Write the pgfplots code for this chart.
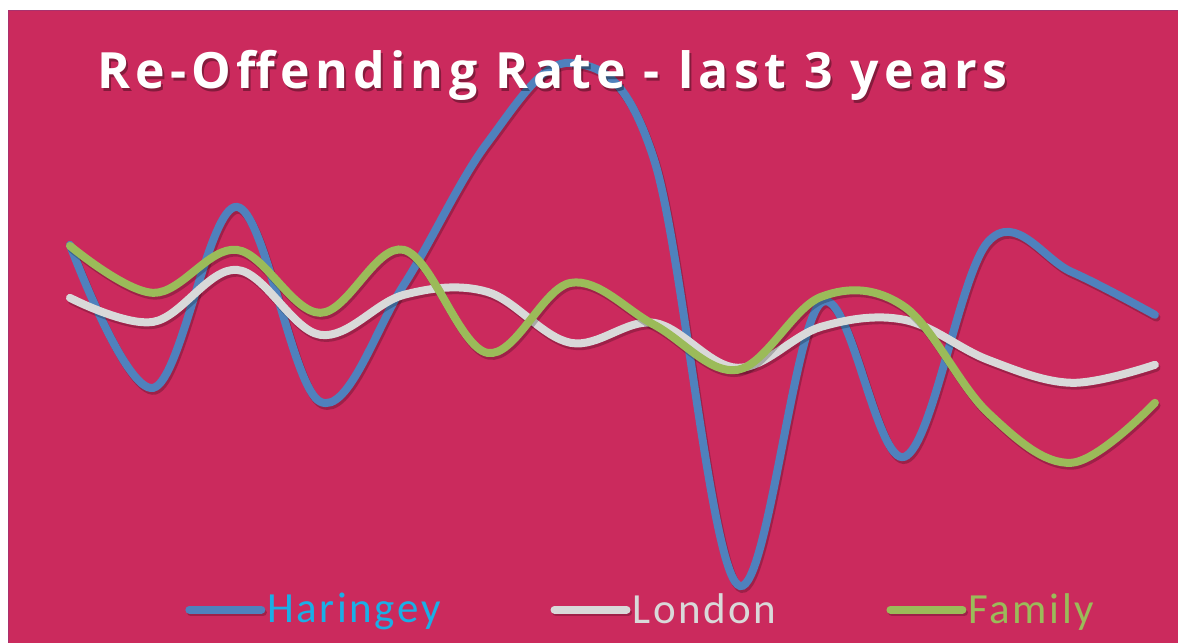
\documentclass[border=0pt]{standalone}
\usepackage{fontspec}
\usepackage{pgfplots}
\pgfplotsset{compat=1.18}
\setmainfont{Carlito}[LetterSpace=6]
\newfontfamily\titlefont{Open Sans}[LetterSpace=10.5]

\definecolor{bgred}{HTML}{CB2A5D}
\definecolor{edge}{HTML}{A8326E}
\definecolor{harblue}{HTML}{4F81BD}
\definecolor{hartxt}{HTML}{1AAFE6}
\definecolor{longrey}{HTML}{D9D9D9}
\definecolor{famgreen}{HTML}{9BBB59}

% values (no axis shown, arbitrary units)
\pgfplotstableread{
i  har   lon   fam
1  39.8  34.5  39.7
2  25.5  32.1  35.0
3  43.6  37.3  39.3
4  24.1  30.8  33.0
5  35.8  34.8  39.3
6  50.0  35.1  29.0
7  58.0  30.0  36.0
8  48.3  32.0  31.8
9  5.8   27.5  27.3
10 34.0  31.6  34.6
11 18.6  32.3  33.6
12 40.1  28.3  23.0
13 37.1  26.0  18.0
14 32.8  27.8  24.0
}\rates

\begin{document}
\begin{tikzpicture}
\fill[white] (0,0) rectangle (589.5pt,321.5pt);
\fill[bgred] (4pt,0) rectangle (589.5pt,316.5pt);
\draw[edge,line width=0.6pt] (4.3pt,0) -- (4.3pt,316.2pt) -- (589.5pt,316.2pt);
\begin{axis}[
  at={(0,0)}, anchor=origin,
  scale only axis, width=589.5pt, height=321.5pt,
  xmin=0.16168, xmax=14.2814, ymin=0, ymax=64.3,
  hide axis, clip=false,
  every axis plot/.append style={smooth, tension=0.6, line width=4pt, line cap=round},
  shadow/.style={preaction={draw=black, opacity=0.22, transform canvas={shift={(0.8pt,-1.4pt)}}}},
  legend columns=3,
  legend style={at={(rel axis cs:0.5437,0.0513)}, anchor=center, draw=none, fill=none,
    font=\fontsize{21.5}{24}\selectfont,
    nodes={inner sep=1pt},
    /tikz/every even column/.append style={column sep=54pt}},
  legend image code/.code={\draw[#1, line width=4pt, line cap=round] (0pt,0pt) -- (36pt,0pt);},
]
\addplot[harblue, shadow] table[x=i, y=har] {\rates};
\addlegendentry{\textcolor{hartxt}{Haringey}}
\addplot[longrey, shadow] table[x=i, y=lon] {\rates};
\addlegendentry{\textcolor{longrey}{London}}
\addplot[famgreen, shadow] table[x=i, y=fam] {\rates};
\addlegendentry{\textcolor{famgreen}{Family}}
\coordinate (T) at (rel axis cs:0.0823,0.8625);
\end{axis}
\node[anchor=base west, inner sep=0pt, text=black, opacity=0.35, xshift=1pt, yshift=-1.5pt]
  at (T) {\titlefont\bfseries\fontsize{25}{29}\selectfont Re-Offending Rate - last 3 years};
\node[anchor=base west, inner sep=0pt, text=white]
  at (T) {\titlefont\bfseries\fontsize{25}{29}\selectfont Re-Offending Rate - last 3 years};
\end{tikzpicture}
\end{document}
